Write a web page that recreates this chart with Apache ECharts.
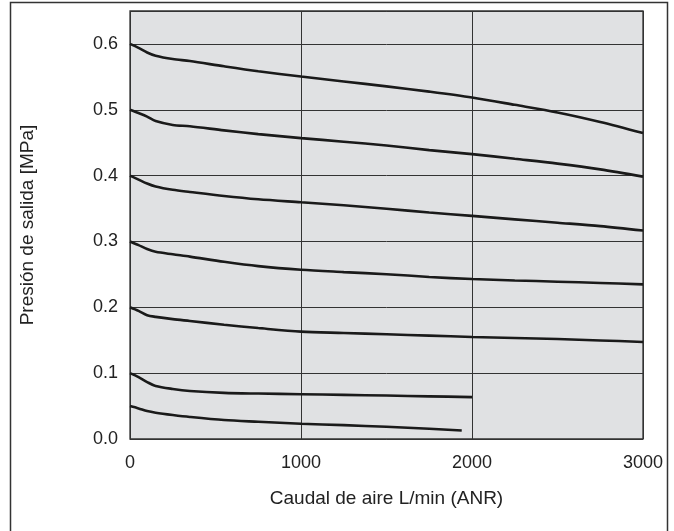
<!DOCTYPE html>
<html>
<head>
<meta charset="utf-8">
<script src="https://cdn.jsdelivr.net/npm/echarts@6/dist/echarts.min.js"></script>
<style>
html,body{margin:0;padding:0;background:#fff;}
#chart{width:674px;height:531px;}
</style>
</head>
<body>
<div id="chart"></div>
<script>
// Flow rate (L/min ANR)
var flowFull = [0, 50, 100, 150, 250, 350, 550, 750, 1000, 1250, 1500, 1750, 2000, 2250, 2500, 2750, 3000];
var flow01   = [0, 50, 100, 150, 250, 350, 550, 750, 1000, 1250, 1500, 1750, 2000];
var flow005  = [0, 50, 100, 150, 250, 350, 550, 750, 1000, 1250, 1500, 1750, 1940];

// Outlet pressure (MPa) per set pressure
var p06 = [0.600, 0.594, 0.587, 0.582, 0.577, 0.574, 0.566, 0.5585, 0.5505, 0.543, 0.5355, 0.5275, 0.5186, 0.5075, 0.496, 0.4815, 0.4646];
var p05 = [0.500, 0.495, 0.4896, 0.4829, 0.477, 0.475, 0.4687, 0.463, 0.457, 0.4515, 0.4457, 0.4387, 0.4327, 0.4255, 0.4182, 0.4095, 0.3985];
var p04 = [0.400, 0.394, 0.388, 0.3835, 0.3785, 0.3752, 0.369, 0.364, 0.3595, 0.355, 0.3497, 0.344, 0.3388, 0.3336, 0.3285, 0.3233, 0.3166];
var p03 = [0.300, 0.2945, 0.2885, 0.2843, 0.2805, 0.277, 0.2691, 0.2625, 0.257, 0.2535, 0.2503, 0.2461, 0.2429, 0.2408, 0.2389, 0.237, 0.2348];
var p02 = [0.200, 0.1945, 0.188, 0.1855, 0.182, 0.1792, 0.1735, 0.1685, 0.163, 0.161, 0.159, 0.157, 0.155, 0.1535, 0.1518, 0.1497, 0.1474];
var p01 = [0.100, 0.094, 0.0865, 0.0805, 0.076, 0.073, 0.0701, 0.069, 0.068, 0.067, 0.066, 0.0648, 0.0636];
var p005 = [0.050, 0.0465, 0.0425, 0.040, 0.0365, 0.0335, 0.0288, 0.0262, 0.0232, 0.021, 0.0185, 0.0155, 0.013];

var xTicks = [0, 1000, 2000, 3000];
var yTicks = [0.0, 0.1, 0.2, 0.3, 0.4, 0.5, 0.6];

var xTitle = 'Caudal de aire L/min (ANR)';
var yTitle = 'Presión de salida [MPa]';

function pairs(xs, ys) {
  return xs.map(function (x, i) { return [x, ys[i]]; });
}

var curves = [
  [flowFull, p06], [flowFull, p05], [flowFull, p04], [flowFull, p03],
  [flowFull, p02], [flow01, p01], [flow005, p005]
];

var font = 'Liberation Sans, Arial, Helvetica, sans-serif';

var chart = echarts.init(document.getElementById('chart'), null, {renderer: 'canvas'});
chart.setOption({
  animation: false,
  backgroundColor: '#ffffff',
  grid: {
    left: 130, top: 11, right: 31, bottom: 92,
    containLabel: false,
    outerBoundsMode: 'none',
    show: true,
    backgroundColor: '#e0e1e3',
    borderColor: '#333333',
    borderWidth: 1.3
  },
  graphic: [{
    type: 'rect',
    shape: {x: 10.5, y: 2.5, width: 657, height: 560},
    style: {fill: 'none', stroke: '#333333', lineWidth: 1.5},
    silent: true,
    z: 100
  }],
  xAxis: {
    type: 'value',
    min: xTicks[0], max: xTicks[xTicks.length - 1], interval: 1000,
    name: xTitle,
    nameLocation: 'middle',
    nameGap: 50,
    nameMoveOverlap: false,
    nameTextStyle: {fontSize: 19, color: '#222', fontFamily: font},
    axisLine: {show: false},
    axisTick: {show: false},
    axisLabel: {
      fontSize: 18, color: '#222', fontFamily: font, margin: 15,
      formatter: function (v) { return String(Math.round(v)); }
    },
    splitLine: {show: true, lineStyle: {color: '#333333', width: 1}}
  },
  yAxis: {
    type: 'value',
    min: 0, max: 0.65, interval: 0.1,
    name: yTitle,
    nameLocation: 'middle',
    nameGap: 93,
    nameMoveOverlap: false,
    nameTextStyle: {fontSize: 19, color: '#222', fontFamily: font},
    axisLine: {show: false},
    axisTick: {show: false},
    axisLabel: {
      fontSize: 18, color: '#222', fontFamily: font, margin: 12,
      showMaxLabel: false,
      formatter: function (v) {
        for (var i = 0; i < yTicks.length; i++) {
          if (Math.abs(v - yTicks[i]) < 1e-6) return yTicks[i].toFixed(1);
        }
        return '';
      }
    },
    splitLine: {show: true, lineStyle: {color: '#333333', width: 1}}
  },
  series: curves.map(function (c) {
    return {
      type: 'line',
      data: pairs(c[0], c[1]),
      smooth: 0.3,
      showSymbol: false,
      symbol: 'none',
      lineStyle: {color: '#1a1a1a', width: 2.6, cap: 'butt'},
      z: 5
    };
  })
});
</script>
</body>
</html>
